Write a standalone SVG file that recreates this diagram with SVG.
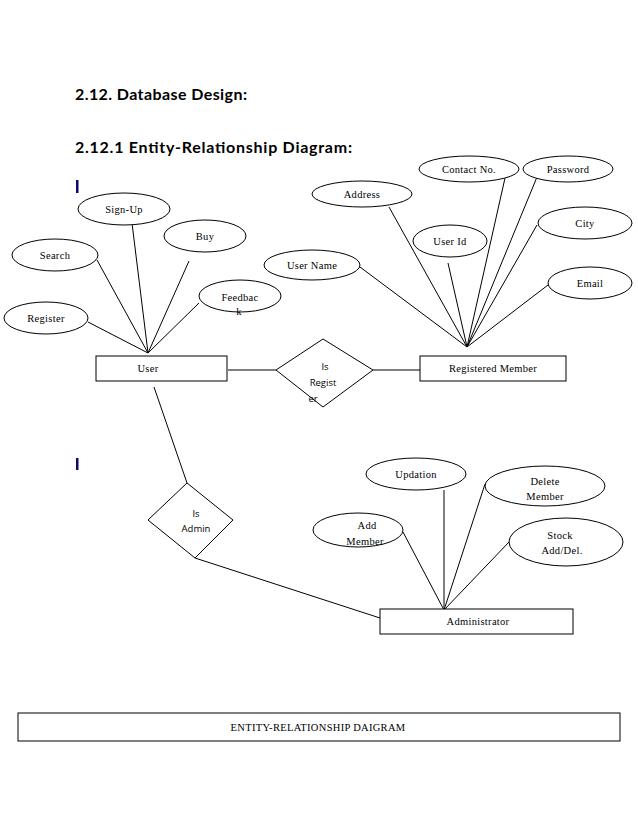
<svg xmlns="http://www.w3.org/2000/svg" width="638" height="826" viewBox="0 0 638 826">
<style>
.s{fill:#fff;stroke:#000;stroke-width:1}
.t{font-family:"Liberation Serif",serif;font-size:10.5px;text-anchor:middle;fill:#000;letter-spacing:0.3px}
.c{font-family:"Open Sans","Liberation Sans",sans-serif;font-size:9.5px;text-anchor:middle;fill:#000}
.h{font-family:Lato,"Liberation Sans",sans-serif;font-size:16px;font-weight:bold;fill:#000}
line{stroke:#000;stroke-width:1}
</style>
<rect width="638" height="826" fill="#fff"/>
<text class="h" x="75" y="100" textLength="172">2.12. Database Design:</text>
<text class="h" x="75" y="153" textLength="277">2.12.1 Entity-Relationship Diagram:</text>
<rect x="76" y="180" width="2.5" height="13" fill="#0a0a6e"/>
<rect x="76" y="458" width="2.5" height="12" fill="#0a0a6e"/>
<g id="connectors">
<line x1="148" y1="353" x2="88" y2="322"/>
<line x1="148" y1="353" x2="97" y2="260"/>
<line x1="148" y1="353" x2="132" y2="223"/>
<line x1="148" y1="353" x2="189" y2="261"/>
<line x1="148" y1="353" x2="199" y2="303"/>
<line x1="228" y1="370" x2="276" y2="370"/>
<line x1="373" y1="370" x2="420" y2="370"/>
<line x1="467" y1="347" x2="389" y2="207"/>
<line x1="467" y1="347" x2="505" y2="178"/>
<line x1="467" y1="347" x2="537" y2="177"/>
<line x1="467" y1="347" x2="537" y2="225"/>
<line x1="467" y1="347" x2="448" y2="263"/>
<line x1="467" y1="347" x2="360" y2="267"/>
<line x1="467" y1="347" x2="548" y2="285"/>
<line x1="154" y1="387" x2="187" y2="483"/>
<line x1="195" y1="558" x2="380" y2="618"/>
<line x1="444" y1="610" x2="403" y2="532"/>
<line x1="444" y1="610" x2="444" y2="490"/>
<line x1="444" y1="610" x2="485" y2="484"/>
<line x1="444" y1="610" x2="509" y2="542"/>
</g>
<g id="signup"><ellipse class="s" cx="124" cy="209" rx="46" ry="16"/><text class="t" x="124" y="213">Sign-Up</text></g>
<g id="buy"><ellipse class="s" cx="205" cy="236" rx="41" ry="16"/><text class="t" x="205" y="240">Buy</text></g>
<g id="search"><ellipse class="s" cx="55" cy="255" rx="43" ry="16"/><text class="t" x="55" y="259">Search</text></g>
<g id="register"><ellipse class="s" cx="46" cy="318" rx="42" ry="16"/><text class="t" x="46" y="322">Register</text></g>
<g id="feedback"><ellipse class="s" cx="240" cy="296" rx="41" ry="16"/><text class="t" x="240" y="301">Feedbac</text><text class="t" x="239" y="315">k</text></g>
<g id="user"><rect class="s" x="96" y="356" width="131" height="25"/><text class="t" x="148" y="372">User</text></g>
<g id="isregister"><polygon class="s" points="276,370 323,339 373,370 323,407"/><text class="c" x="325" y="370">Is</text><text class="c" x="323" y="386">Regist</text><text class="c" x="313" y="402">er</text></g>
<g id="regmember"><rect class="s" x="420" y="356" width="146" height="25"/><text class="t" x="493" y="372">Registered Member</text></g>
<g id="contact"><ellipse class="s" cx="469" cy="169" rx="50" ry="13"/><text class="t" x="469" y="173">Contact No.</text></g>
<g id="password"><ellipse class="s" cx="568" cy="169" rx="45" ry="13"/><text class="t" x="568" y="173">Password</text></g>
<g id="address"><ellipse class="s" cx="362" cy="194" rx="50" ry="13"/><text class="t" x="362" y="198">Address</text></g>
<g id="userid"><ellipse class="s" cx="450" cy="241" rx="37" ry="16"/><text class="t" x="450" y="245">User Id</text></g>
<g id="username"><ellipse class="s" cx="312" cy="265" rx="48" ry="15"/><text class="t" x="312" y="269">User Name</text></g>
<g id="city"><ellipse class="s" cx="585" cy="223" rx="47" ry="16"/><text class="t" x="585" y="227">City</text></g>
<g id="email"><ellipse class="s" cx="590" cy="283" rx="42" ry="16"/><text class="t" x="590" y="287">Email</text></g>
<g id="isadmin"><polygon class="s" points="148,520 187,483 233,520 195,558"/><text class="c" x="196" y="517">Is</text><text class="c" x="196" y="532">Admin</text></g>
<g id="updation"><ellipse class="s" cx="416" cy="474" rx="50" ry="16"/><text class="t" x="416" y="478">Updation</text></g>
<g id="delete"><ellipse class="s" cx="545" cy="486" rx="60" ry="20"/><text class="t" x="545" y="485">Delete</text><text class="t" x="545" y="500">Member</text></g>
<g id="addmember"><ellipse class="s" cx="358" cy="530" rx="45" ry="17"/><text class="t" x="367" y="529">Add</text><text class="t" x="365" y="545">Member</text></g>
<g id="stock"><ellipse class="s" cx="566" cy="542" rx="57" ry="24"/><text class="t" x="560" y="539">Stock</text><text class="t" x="562" y="554">Add/Del.</text></g>
<g id="admin"><rect class="s" x="380" y="609" width="193" height="25"/><text class="t" x="478" y="625">Administrator</text></g>
<g id="caption"><rect class="s" x="18" y="713" width="602" height="28"/><text class="t" x="318" y="731">ENTITY-RELATIONSHIP DAIGRAM</text></g>
</svg>
